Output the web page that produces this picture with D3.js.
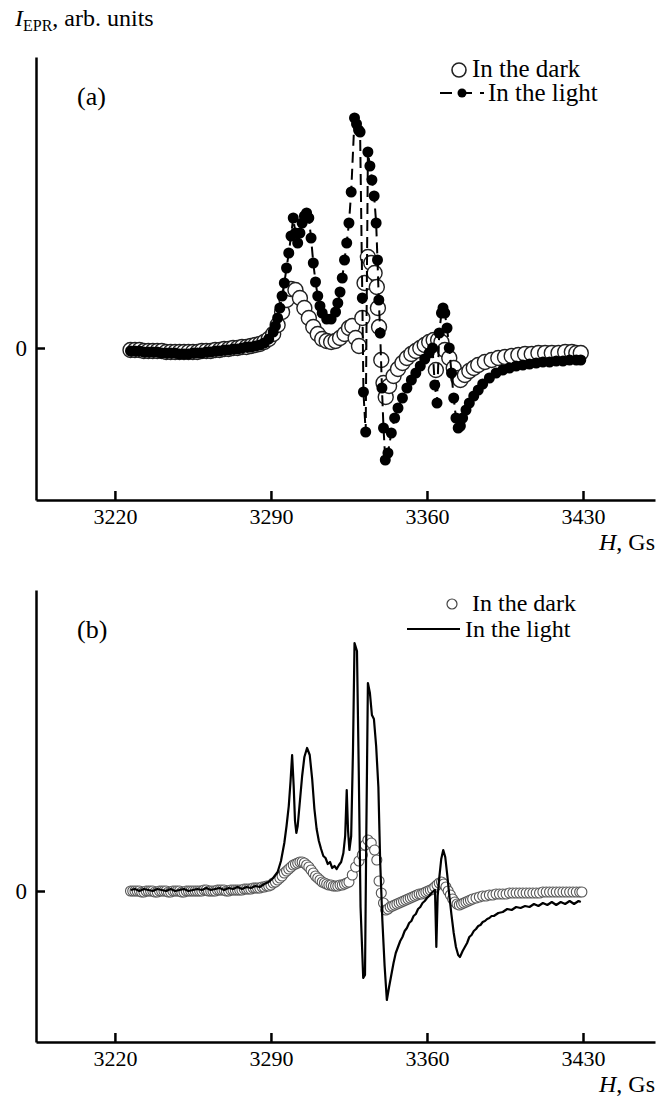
<!DOCTYPE html>
<html><head><meta charset="utf-8">
<script src="https://cdn.jsdelivr.net/npm/d3@7"></script>
<style>
body{margin:0;background:#fff;}
svg, svg text{font-family:"Liberation Serif","Times New Roman",serif;}
svg text{fill:#000;}
</style></head><body>
<svg id="chart" width="666" height="1102" font-family="Liberation Serif, Times New Roman, serif"></svg>
<script>
const xTicks=[3220,3290,3360,3430];
const yTicks=[0];
const legendLabels=["In the dark","In the light"];

const darkA=[[3227,-0.2],[3229,-0.2],[3231,-0.2],[3233,-0.3],[3235,-0.3],[3237,-0.3],[3239,-0.3],[3241,-0.3],[3243,-0.4],[3245,-0.4],[3247,-0.4],[3249,-0.4],[3251,-0.4],[3253,-0.4],[3255,-0.4],[3257,-0.4],[3259,-0.3],[3261,-0.3],[3263,-0.3],[3265,-0.2],[3267,-0.2],[3269,-0.1],[3271,-0.1],[3273,0.0],[3275,0.0],[3277,0.1],[3279,0.1],[3281,0.2],[3283,0.3],[3285,0.4],
[3287,0.6],[3289,0.9],[3291,1.4],[3293,2.3],[3295,3.6],[3297,4.8],[3299,5.9],[3301,5.8],[3303,5.0],[3305,4.0],[3307,3.0],[3309,2.1],[3311,1.4],[3313,0.9],[3315,0.7],[3317,0.6],[3319,0.7],[3321,1.0],[3323,1.4],[3325,2.0],[3326.5,2.2],[3328,1.0],[3329.5,0.2],[3331,3.0],[3332,6.5],[3333.5,9.1],[3335,8.5],[3336.5,7.5],[3337.5,6.1],[3338,4.0],[3338.5,2.1],[3339.5,-1.2],[3340.5,-3.5],[3341.5,-4.9],[3343,-3.8],[3345,-2.8],[3347,-2.1],[3349,-1.5],[3351,-1.0],[3353,-0.6],[3355,-0.3],[3357,0.0],[3359,0.3],[3361,0.6],[3363,0.8],[3364,-2.2],[3365,0.8],[3366.5,0.6],[3368,-0.2],[3370,-1.0],[3372,-2.0],[3374,-3.0],[3375,-3.2],[3377,-2.7],[3379,-2.3],[3381,-2.0],[3383,-1.7],[3386,-1.4],[3389,-1.2],[3392,-1.0],[3395,-0.9],[3398,-0.8],[3401,-0.7],[3404,-0.6],[3407,-0.6],[3410,-0.5],[3413,-0.5],[3416,-0.5],[3419,-0.5],[3422,-0.4],[3425,-0.4],[3427,-0.5],[3429,-0.5]];

const lightA=[[3227,-0.3],[3229,-0.3],[3231,-0.3],[3233,-0.4],[3235,-0.4],[3237,-0.4],[3239,-0.4],[3241,-0.5],[3243,-0.5],[3245,-0.5],[3247,-0.5],[3249,-0.6],[3251,-0.6],[3253,-0.6],[3255,-0.5],[3257,-0.5],[3259,-0.5],[3261,-0.4],[3263,-0.4],[3265,-0.3],[3267,-0.3],[3269,-0.2],[3271,-0.2],[3273,-0.1],[3275,-0.1],[3277,0.0],[3279,0.1],[3281,0.1],[3283,0.2],[3285,0.3],
[3287,0.5],[3289,0.9],[3291,1.6],[3292,2.2],[3293,3.0],[3294,4.0],[3295,5.2],[3296,6.5],[3297,8.0],[3298,9.5],[3299,11.2],[3300,13.0],[3301,11.5],[3302,10.5],[3303,11.5],[3304,12.5],[3305,13.2],[3306,13.5],[3307,13.0],[3308,11.0],[3309,8.5],[3310,6.6],[3311,5.2],[3312,4.2],[3313,3.5],[3315,2.9],[3317,2.9],[3319,3.6],[3320,4.5],[3321,5.6],[3322,7.0],[3323,8.8],[3324,10.5],[3325,12.5],[3326,15.6],[3327.5,23.0],[3328.4,22.4],[3329.3,21.8],[3330,21.6],[3331,5.0],[3331.5,-4.4],[3332.5,-8.4],[3333.5,19.6],[3334.4,18.2],[3335.3,16.8],[3336.3,15.2],[3337.2,12.5],[3337.8,8.8],[3338.4,4.8],[3339,1.5],[3339.8,-4.0],[3340.5,-8.0],[3341.3,-11.2],[3342.5,-10.5],[3344,-8.5],[3345.5,-7.0],[3347,-6.0],[3349,-5.0],[3351,-4.0],[3353,-3.2],[3355,-2.5],[3357,-1.8],[3359,-1.1],[3361,-0.5],[3362.5,0.0],[3363.5,-3.7],[3364.5,-5.5],[3365.5,1.5],[3366.5,3.5],[3367.2,4.0],[3368,3.5],[3369,2.0],[3370,0.0],[3371,-2.5],[3372,-5.0],[3373,-7.0],[3374,-8.0],[3375,-7.8],[3376,-7.0],[3377.5,-6.2],[3379,-5.5],[3381,-4.8],[3383,-4.2],[3385,-3.6],[3388,-3.0],[3391,-2.5],[3394,-2.2],[3397,-2.0],[3400,-1.8],[3403,-1.7],[3406,-1.6],[3409,-1.5],[3412,-1.4],[3415,-1.4],[3418,-1.3],[3421,-1.3],[3424,-1.2],[3427,-1.2],[3429,-1.2]];

const darkB=[[3227,0.0],[3228,0.0],[3229,0.0],[3230,0.0],[3231,0.0],[3232,-0.1],[3233,-0.1],[3234,0.0],[3235,0.0],[3236,0.0],[3237,0.0],[3238,-0.1],[3239,-0.1],[3240,0.0],[3241,0.0],[3242,0.0],[3243,0.0],[3244,-0.1],[3245,-0.1],[3246,0.0],[3247,0.0],[3248,0.0],[3249,0.0],[3250,-0.1],[3251,-0.1],[3252,0.0],[3253,0.0],[3254,0.0],[3255,0.0],[3256,0.0],[3257,0.0],[3258,0.0],[3259,0.0],[3260,0.1],[3261,0.1],[3262,0.0],[3263,0.0],[3264,0.0],[3265,0.0],[3266,0.1],[3267,0.1],[3268,0.1],[3269,0.1],[3270,0.0],[3271,0.0],[3272,0.1],[3273,0.1],[3274,0.1],[3275,0.1],[3276,0.1],[3277,0.1],[3278,0.2],[3279,0.2],[3280,0.2],[3281,0.2],[3282,0.3],[3283,0.3],[3284,0.3],[3285,0.3],[3286,0.4],[3287,0.4],[3288,0.5],[3289,0.5],[3290,0.6],[3291,0.8],[3292,0.9],[3293,1.1],[3294,1.3],[3295,1.5],[3296,1.8],[3297,2.0],[3298,2.2],[3299,2.4],[3300,2.6],[3301,2.7],[3302,2.8],[3303,2.9],[3304,2.9],[3305,2.8],[3306,2.6],[3307,2.4],[3308,2.1],[3309,1.8],[3310,1.5],[3311,1.3],[3312,1.1],[3313,0.9],[3314,0.8],[3315,0.7],[3316,0.6],[3317,0.6],[3318,0.5],[3319,0.5],[3320,0.5],[3321,0.6],[3322,0.6],[3323,0.7],[3324,0.8],[3325,0.9],[3326.5,1.6],[3328,2.4],[3329.5,3.0],[3331,3.6],[3332.3,4.6],[3333.5,5.1],[3335,4.8],[3336.5,4.1],[3337.5,3.1],[3338.5,1.0],[3339.5,-0.2],[3340.5,-1.2],[3341.5,-1.9],[3342.5,-1.8],[3343.5,-1.6],[3344.5,-1.5],[3345.5,-1.4],[3346.5,-1.3],[3347.5,-1.2],[3348.5,-1.1],[3349.5,-1.0],[3350.5,-0.9],[3351.5,-0.8],[3352.5,-0.7],[3353.5,-0.6],[3354.5,-0.5],[3355.5,-0.4],[3356.5,-0.3],[3357.5,-0.3],[3358.5,-0.2],[3359.5,-0.1],[3360.5,0.0],[3361.5,0.1],[3362.5,0.2],[3363.5,0.4],[3364.5,0.6],[3365.5,0.8],[3366.5,0.9],[3367.5,0.7],[3368.5,0.4],[3369.5,0.0],[3370.5,-0.4],[3371.5,-0.8],[3372.5,-1.1],[3373.5,-1.3],[3374.5,-1.4],[3375.5,-1.3],[3376.5,-1.2],[3377.5,-1.1],[3378.5,-1.0],[3379.5,-0.9],[3380.5,-0.8],[3382,-0.7],[3383.5,-0.6],[3385,-0.5],[3386.5,-0.5],[3388,-0.4],[3389.5,-0.4],[3391,-0.3],[3392.5,-0.3],[3394,-0.3],[3395.5,-0.3],[3397,-0.2],[3398.5,-0.2],[3400,-0.2],[3401.5,-0.2],[3403,-0.2],[3404.5,-0.2],[3406,-0.2],[3407.5,-0.2],[3409,-0.2],[3410.5,-0.2],[3412,-0.1],[3413.5,-0.1],[3415,-0.1],[3416.5,-0.1],[3418,-0.1],[3419.5,-0.1],[3421,-0.1],[3422.5,-0.1],[3424,-0.1],[3425.5,-0.1],[3427,-0.1],[3428.5,-0.1],[3429.5,-0.1]];

const lightB=[[3227,0.1],[3229,0.2],[3231,0.0],[3233,0.2],[3235,0.1],[3237,0.0],[3239,0.2],[3241,0.1],[3243,0.0],[3245,0.2],[3247,0.0],[3249,0.1],[3251,0.2],[3253,0.0],[3255,0.1],[3257,0.2],[3259,0.1],[3261,0.3],[3263,0.1],[3265,0.2],[3267,0.3],[3269,0.1],[3271,0.3],[3273,0.2],[3275,0.4],[3277,0.2],[3279,0.4],[3281,0.3],[3283,0.5],[3285,0.4],[3287,0.7],[3289,0.9],[3291,1.3],[3293,1.9],[3294.5,3.0],[3296,4.8],[3297,6.5],[3298,8.5],[3298.8,11.0],[3299.5,13.6],[3300.2,10.5],[3300.8,7.0],[3301.4,5.8],[3302,6.5],[3303,9.0],[3304,11.5],[3305,13.4],[3306.2,14.3],[3307.4,13.6],[3308.5,11.2],[3309.5,8.2],[3310.5,6.2],[3311.5,5.0],[3312.5,4.2],[3313.5,3.5],[3314.5,3.3],[3315.5,2.7],[3316.5,2.9],[3317.5,2.3],[3318.5,2.5],[3319.5,2.2],[3320.5,2.6],[3321.5,2.9],[3322.5,3.8],[3323.3,5.5],[3324,10.1],[3324.6,6.0],[3325.2,4.1],[3326,5.5],[3326.8,14.0],[3327.5,24.8],[3328.6,24.0],[3329.4,12.0],[3330.2,-1.6],[3331.4,-8.7],[3332.2,-8.4],[3332.8,6.0],[3333.5,20.8],[3334.4,19.8],[3335.3,17.6],[3336.2,17.2],[3337.2,14.5],[3338.2,10.4],[3339,3.0],[3340,-3.0],[3341,-7.5],[3342,-10.9],[3343,-9.6],[3344,-8.4],[3345,-7.2],[3346,-6.2],[3347,-5.6],[3348,-5.0],[3349,-4.6],[3350,-4.0],[3351,-3.7],[3352,-3.2],[3353,-3.0],[3354,-2.5],[3355,-2.3],[3356,-1.8],[3357,-1.6],[3358,-1.2],[3359,-1.0],[3360,-0.7],[3361,-0.5],[3362,-0.2],[3363,0.0],[3363.6,0.1],[3364.2,-5.6],[3364.8,-0.5],[3365.6,1.5],[3366.4,3.2],[3367.3,4.1],[3368.2,3.4],[3369.1,1.6],[3370,-0.4],[3371,-2.4],[3372,-4.2],[3373,-5.6],[3374,-6.4],[3374.8,-6.6],[3376,-6.0],[3377,-5.6],[3378,-5.2],[3379,-4.6],[3380,-4.4],[3381,-4.0],[3382,-3.8],[3383,-3.5],[3384,-3.4],[3385,-3.1],[3386,-3.0],[3387,-2.8],[3388,-2.7],[3389,-2.5],[3390,-2.5],[3392,-2.2],[3394,-2.1],[3396,-1.8],[3398,-1.9],[3400,-1.6],[3402,-1.7],[3404,-1.5],[3406,-1.6],[3408,-1.3],[3410,-1.5],[3412,-1.2],[3414,-1.4],[3416,-1.1],[3418,-1.4],[3420,-1.1],[3422,-1.3],[3424,-1.0],[3426,-1.3],[3428,-1.0],[3429,-1.1]];

const svg=d3.select("#chart");
const FS=25;     // main text size
const FN=22;     // numeric tick labels
const FF="Liberation Serif, Times New Roman, serif";

const x=d3.scaleLinear().domain([3184.6,3462.3]).range([36,655]);

function panel(opt){
  const y=d3.scaleLinear().domain(opt.yDomain).range([opt.bottom,opt.top]);
  const g=svg.append("g");
  const xa=g.append("g").attr("transform",`translate(0,${opt.bottom})`)
    .call(d3.axisBottom(x).tickValues(xTicks).tickFormat(d3.format("d")).tickSizeInner(-9).tickSizeOuter(0).tickPadding(8));
  xa.attr("font-family",FF).attr("font-size",FN);
  xa.selectAll("path,line").attr("stroke","#000").attr("stroke-width",2.5);
  xa.selectAll("text").attr("font-size",FN).attr("font-family",FF).attr("fill","#000");
  const ya=g.append("g").attr("transform",`translate(36,0)`)
    .call(d3.axisLeft(y).tickValues(yTicks).tickFormat(d3.format("d")).tickSizeInner(-9).tickSizeOuter(0).tickPadding(9));
  ya.attr("font-family",FF).attr("font-size",FN);
  ya.selectAll("path,line").attr("stroke","#000").attr("stroke-width",2.5);
  ya.selectAll("text").attr("font-size",FN+1).attr("font-family",FF).attr("fill","#000");
  const hl=g.append("text").attr("x",655).attr("y",opt.bottom+50).attr("text-anchor","end").attr("font-size",24).attr("font-family",FF);
  hl.append("tspan").attr("font-style","italic").text("H");
  hl.append("tspan").text(", Gs");
  g.append("text").attr("x",77).attr("y",opt.top+48).attr("font-size",26).attr("font-family",FF).text(opt.label);
  return {g,y};
}

// ---- Panel (a)
const pa=panel({top:57,bottom:500,yDomain:[-15.2,29.1],label:"(a)"});
pa.g.append("g").selectAll("circle").data(darkA).join("circle")
  .attr("cx",d=>x(d[0])).attr("cy",d=>pa.y(d[1])).attr("r",7.5)
  .attr("fill","#fff").attr("stroke","#222").attr("stroke-width",1.4);
pa.g.append("path").datum(lightA)
  .attr("d",d3.line().x(d=>x(d[0])).y(d=>pa.y(d[1])))
  .attr("fill","none").attr("stroke","#000").attr("stroke-width",2).attr("stroke-dasharray","11,6");
pa.g.append("g").selectAll("circle").data(lightA).join("circle")
  .attr("cx",d=>x(d[0])).attr("cy",d=>pa.y(d[1])).attr("r",5.5).attr("fill","#000");

// ---- Panel (b)
const pb=panel({top:590,bottom:1042,yDomain:[-15.1,30.1],label:"(b)"});
pb.g.append("g").selectAll("circle").data(darkB).join("circle")
  .attr("cx",d=>x(d[0])).attr("cy",d=>pb.y(d[1])).attr("r",5)
  .attr("fill","#fff").attr("stroke","#555").attr("stroke-width",1.1);
pb.g.append("path").datum(lightB)
  .attr("d",d3.line().x(d=>x(d[0])).y(d=>pb.y(d[1])))
  .attr("fill","none").attr("stroke","#000").attr("stroke-width",2.2).attr("stroke-linejoin","round");

// ---- Title
const t=svg.append("text").attr("x",15).attr("y",26).attr("font-size",24).attr("font-family",FF);
t.append("tspan").attr("font-style","italic").text("I");
t.append("tspan").attr("font-size",16).attr("dy",5).text("EPR");
t.append("tspan").attr("dy",-5).text(", arb. units");

// ---- Legends
const la=svg.append("g").attr("font-family",FF);
la.append("circle").attr("cx",459).attr("cy",70).attr("r",7).attr("fill","#fff").attr("stroke","#222").attr("stroke-width",1.6);
la.append("text").attr("x",472).attr("y",77).attr("font-size",FS).attr("font-family",FF).text(legendLabels[0]);
la.append("line").attr("x1",440).attr("x2",484).attr("y1",93).attr("y2",93).attr("stroke","#000").attr("stroke-width",2).attr("stroke-dasharray","12,8");
la.append("circle").attr("cx",462).attr("cy",93).attr("r",4.5).attr("fill","#000");
la.append("text").attr("x",488).attr("y",101).attr("font-size",FS).attr("font-family",FF).text(legendLabels[1]);

const lb=svg.append("g").attr("font-family",FF);
lb.append("circle").attr("cx",452).attr("cy",604).attr("r",5).attr("fill","#fff").attr("stroke","#444").attr("stroke-width",1.2);
lb.append("text").attr("x",472).attr("y",611).attr("font-size",24).attr("font-family",FF).text(legendLabels[0]);
lb.append("line").attr("x1",407).attr("x2",460).attr("y1",629).attr("y2",629).attr("stroke","#000").attr("stroke-width",2.2);
lb.append("text").attr("x",465).attr("y",637).attr("font-size",24).attr("font-family",FF).text(legendLabels[1]);
</script>
</body></html>
